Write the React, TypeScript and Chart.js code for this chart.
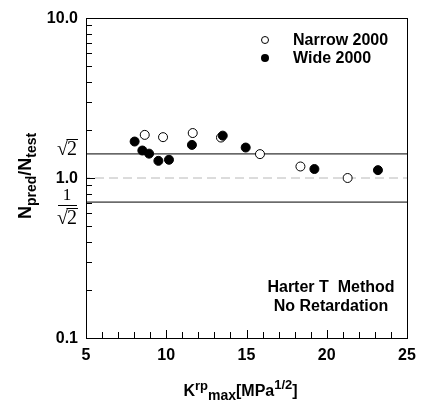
import React, { useEffect, useRef } from "react";
import { Chart, registerables } from "chart.js";

Chart.register(...registerables);

// ---- data ----
const narrowX = [8.66, 9.8, 11.65, 13.41, 15.84, 18.36, 21.3];
const narrowY = [1.86, 1.8, 1.91, 1.79, 1.41, 1.18, 1.0];
const wideX = [8.03, 8.51, 8.93, 9.51, 10.17, 11.6, 13.52, 14.95, 19.23, 23.19];
const wideY = [1.69, 1.485, 1.42, 1.28, 1.3, 1.61, 1.84, 1.55, 1.138, 1.12];
const refX = [5, 25];
const upperBand = [Math.SQRT2, Math.SQRT2];
const lowerBand = [1 / Math.SQRT2, 1 / Math.SQRT2];
const unityLine = [1, 1];
const xTickLabels = [5, 10, 15, 20, 25];
const yMajorTicks = [0.1, 1, 10];
const yMajorLabels = ["0.1", "1.0", "10.0"];
const legendLabels = ["Narrow 2000", "Wide 2000"];
const noteLines = ["Harter T  Method", "No Retardation"];

const SANS = "'Liberation Sans', Arial, sans-serif";
const SERIF = "'Liberation Serif', 'Times New Roman', serif";

type Seg = { t: string; size: number; dy: number };

function richWidth(ctx: CanvasRenderingContext2D, segs: Seg[]) {
  let w = 0;
  for (const s of segs) {
    ctx.font = `bold ${s.size}px ${SANS}`;
    w += ctx.measureText(s.t).width;
  }
  return w;
}
function drawRich(ctx: CanvasRenderingContext2D, segs: Seg[], cx: number, baseY: number) {
  const w = richWidth(ctx, segs);
  let x = cx - w / 2;
  ctx.textAlign = "left";
  ctx.textBaseline = "alphabetic";
  for (const s of segs) {
    ctx.font = `bold ${s.size}px ${SANS}`;
    ctx.fillText(s.t, x, baseY + s.dy);
    x += ctx.measureText(s.t).width;
  }
}

function drawSqrt2(ctx: CanvasRenderingContext2D, x: number, y: number) {
  // x = left of radical, y = baseline
  ctx.font = `20px ${SERIF}`;
  ctx.textAlign = "left";
  ctx.textBaseline = "alphabetic";
  const rw = ctx.measureText("\u221A").width;
  ctx.fillText("\u221A", x, y);
  const tw = ctx.measureText("2").width;
  ctx.fillText("2", x + rw - 1, y);
  ctx.beginPath();
  ctx.lineWidth = 1;
  const oy = Math.round(y - 16) + 0.5;
  ctx.moveTo(x + rw - 1.5, oy);
  ctx.lineTo(x + rw + tw, oy);
  ctx.stroke();
}

const decorPlugin = {
  id: "decor",
  afterDraw(chart: any) {
    const ctx: CanvasRenderingContext2D = chart.ctx;
    const { left, right, top, bottom } = chart.chartArea;
    const xs = chart.scales.x;
    const ys = chart.scales.y;
    ctx.save();
    ctx.strokeStyle = "#000";
    ctx.fillStyle = "#000";
    ctx.lineWidth = 1;
    // frame
    ctx.strokeRect(Math.round(left) + 0.5, Math.round(top) + 0.5, Math.round(right - left), Math.round(bottom - top));

    // x ticks (inward)
    ctx.beginPath();
    for (let v = 5; v <= 25; v++) {
      const px = Math.round(xs.getPixelForValue(v)) + 0.5;
      const len = v % 5 === 0 ? 8 : 6;
      ctx.moveTo(px, bottom);
      ctx.lineTo(px, bottom - len);
    }
    // y ticks (inward)
    for (let d = 0.1; d < 10; d *= 10) {
      for (let m = 1; m <= 9; m++) {
        const v = d * m;
        const py = Math.round(ys.getPixelForValue(v)) + 0.5;
        const len = m === 1 ? 9 : 6;
        ctx.moveTo(left, py);
        ctx.lineTo(left + len, py);
      }
    }
    ctx.stroke();

    // x tick labels
    ctx.font = `bold 16px ${SANS}`;
    ctx.textAlign = "center";
    ctx.textBaseline = "middle";
    for (const v of xTickLabels) {
      ctx.fillText(String(v), xs.getPixelForValue(v), bottom + 18);
    }
    // y tick labels
    ctx.textAlign = "right";
    yMajorTicks.forEach((v, i) => {
      ctx.fillText(yMajorLabels[i], left - 8, ys.getPixelForValue(v) + 1);
    });

    // sqrt2 label
    const ySq = ys.getPixelForValue(Math.SQRT2);
    drawSqrt2(ctx, 57, ySq + 1);
    // 1/sqrt2 label
    const yInv = ys.getPixelForValue(1 / Math.SQRT2);
    ctx.font = `17px ${SERIF}`;
    ctx.textAlign = "center";
    ctx.textBaseline = "alphabetic";
    ctx.fillText("1", 67, yInv - 2);
    ctx.beginPath();
    ctx.moveTo(58, Math.round(yInv + 3) + 0.5);
    ctx.lineTo(77, Math.round(yInv + 3) + 0.5);
    ctx.stroke();
    drawSqrt2(ctx, 57, yInv + 22);

    // legend
    const lx = 265;
    const ly = [40, 58];
    ctx.lineWidth = 1;
    ctx.beginPath();
    ctx.arc(lx, ly[0], 3.5, 0, Math.PI * 2);
    ctx.fillStyle = "#fff";
    ctx.fill();
    ctx.stroke();
    ctx.beginPath();
    ctx.arc(lx, ly[1], 4, 0, Math.PI * 2);
    ctx.fillStyle = "#000";
    ctx.fill();
    ctx.font = `bold 16px ${SANS}`;
    ctx.textAlign = "left";
    ctx.textBaseline = "middle";
    legendLabels.forEach((t, i) => ctx.fillText(t, 293, ly[i] + 1));

    // note
    ctx.textAlign = "center";
    ctx.fillText(noteLines[0], 331, 288);
    ctx.fillText(noteLines[1], 331, 307);

    // x title
    drawRich(
      ctx,
      [
        { t: "K", size: 16, dy: 0 },
        { t: "rp", size: 13, dy: -6 },
        { t: "max", size: 14, dy: 4 },
        { t: "[MPa", size: 16, dy: 0 },
        { t: "1/2", size: 13, dy: -7 },
        { t: "]", size: 16, dy: 0 },
      ],
      (left + right) / 2 - 6,
      396
    );

    // y title (rotated)
    ctx.save();
    ctx.translate(31, 176);
    ctx.rotate(-Math.PI / 2);
    drawRich(
      ctx,
      [
        { t: "N", size: 18, dy: 0 },
        { t: "pred", size: 14, dy: 5 },
        { t: "/N", size: 18, dy: 0 },
        { t: "test", size: 14, dy: 5 },
      ],
      0,
      0
    );
    ctx.restore();

    ctx.restore();
  },
};

export default function App() {
  const ref = useRef<HTMLCanvasElement | null>(null);
  useEffect(() => {
    document.body.style.margin = "0";
    const canvas = ref.current!;
    const toPts = (xs: number[], ys: number[]) => xs.map((x, i) => ({ x, y: ys[i] }));
    const chart = new Chart(canvas, {
      type: "scatter",
      data: {
        datasets: [
          {
            label: "Wide 2000",
            data: toPts(wideX, wideY),
            pointRadius: 4.5,
            pointBackgroundColor: "#000",
            pointBorderColor: "#000",
            pointBorderWidth: 1,
            showLine: false,
          },
          {
            label: "Narrow 2000",
            data: toPts(narrowX, narrowY),
            pointRadius: 4.5,
            pointBackgroundColor: "#fff",
            pointBorderColor: "#000",
            pointBorderWidth: 1,
            showLine: false,
          },
          {
            label: "upper",
            data: toPts(refX, upperBand),
            showLine: true,
            pointRadius: 0,
            borderColor: "#000",
            borderWidth: 1,
          },
          {
            label: "lower",
            data: toPts(refX, lowerBand),
            showLine: true,
            pointRadius: 0,
            borderColor: "#000",
            borderWidth: 1,
          },
          {
            label: "unity",
            data: toPts(refX, unityLine),
            showLine: true,
            pointRadius: 0,
            borderColor: "#b8b8b8",
            borderWidth: 1,
            borderDash: [9, 5],
            borderDashOffset: 5,
          },
        ],
      },
      options: {
        responsive: false,
        animation: false,
        layout: { padding: { left: 86, top: 18, right: 15, bottom: 66 } },
        plugins: { legend: { display: false }, tooltip: { enabled: false } },
        scales: {
          x: { type: "linear", min: 5, max: 25, display: false },
          y: { type: "logarithmic", min: 0.1, max: 10, display: false },
        },
      },
      plugins: [decorPlugin],
    });
    return () => chart.destroy();
  }, []);
  return (
    <div style={{ width: 422, height: 404, background: "#fff" }}>
      <canvas ref={ref} width={422} height={404} style={{ display: "block" }} />
    </div>
  );
}
